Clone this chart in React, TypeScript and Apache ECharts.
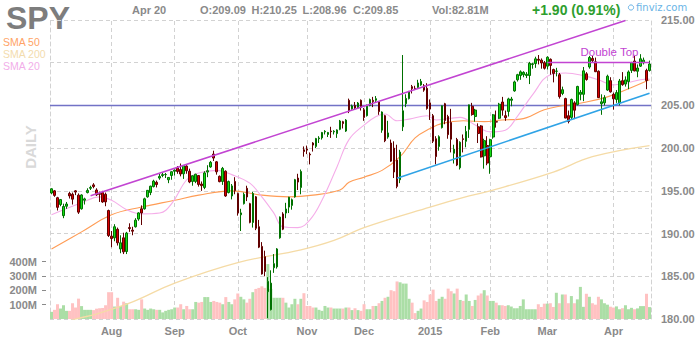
import React, { useEffect, useRef } from 'react';
import * as echarts from 'echarts';

// ---------- data ----------
const tradingDays: [string, number[]][] = [
  ['Jul', [3, 7, 8, 9, 10, 11, 14, 15, 16, 17, 18, 21, 22, 23, 24, 25, 28, 29, 30, 31]],
  ['Aug', [1, 4, 5, 6, 7, 8, 11, 12, 13, 14, 15, 18, 19, 20, 21, 22, 25, 26, 27, 28, 29]],
  ['Sep', [2, 3, 4, 5, 8, 9, 10, 11, 12, 15, 16, 17, 18, 19, 22, 23, 24, 25, 26, 29, 30]],
  ['Oct', [1, 2, 3, 6, 7, 8, 9, 10, 13, 14, 15, 16, 17, 20, 21, 22, 23, 24, 27, 28, 29, 30, 31]],
  ['Nov', [3, 4, 5, 6, 7, 10, 11, 12, 13, 14, 17, 18, 19, 20, 21, 24, 25, 26, 28]],
  ['Dec', [1, 2, 3, 4, 5, 8, 9, 10, 11, 12, 15, 16, 17, 18, 19, 22, 23, 24, 26, 29, 30, 31]],
  ['Jan', [2, 5, 6, 7, 8, 9, 12, 13, 14, 15, 16, 20, 21, 22, 23, 26, 27, 28, 29, 30]],
  ['Feb', [2, 3, 4, 5, 6, 9, 10, 11, 12, 13, 17, 18, 19, 20, 23, 24, 25, 26, 27]],
  ['Mar', [2, 3, 4, 5, 6, 9, 10, 11, 12, 13, 16, 17, 18, 19, 20, 23, 24, 25, 26, 27, 30, 31]],
  ['Apr', [1, 2, 6, 7, 8, 9, 10, 13, 14, 15, 16, 17, 20]],
];
const monthTickLabels: Record<string, string> = {
  Aug: 'Aug', Sep: 'Sep', Oct: 'Oct', Nov: 'Nov', Dec: 'Dec', Jan: '2015', Feb: 'Feb', Mar: 'Mar', Apr: 'Apr',
};

const opens = [
  194.75, 195.0, 194.2, 193.4, 192.1, 193.2, 194.7, 194.6, 195.0, 194.5, 192.9, 193.9, 194.8, 195.3, 195.7, 195.1, 194.7, 194.8, 194.6, 192.7,
  189.7, 189.5, 190.5, 188.2, 189.5, 187.9, 190.7, 190.4, 190.8, 191.7, 192.9, 192.9, 194.3, 194.8, 195.5, 196.0, 196.5, 196.8, 196.9, 196.3, 196.8,
  197.3, 197.7, 197.5, 197.0, 197.9, 197.3, 196.1, 196.1, 196.8, 195.8, 195.4, 197.2, 197.8, 199.3, 198.4, 196.7, 196.1, 197.3, 194.8, 194.4, 196.1,
  194.7, 192.2, 193.5, 195.3, 193.5, 191.3, 194.3, 190.8, 188.5, 187.3, 183.2, 181.1, 186.0, 186.1, 189.5, 192.3, 192.4, 193.1, 193.3, 194.3, 196.5, 195.4, 199.8,
  199.9, 199.3, 200.6, 200.2, 201.1, 201.2, 201.9, 201.6, 202.0, 201.9, 201.7, 202.2, 203.1, 202.0, 205.6, 204.6, 205.0, 204.7, 205.6,
  204.5, 203.8, 205.0, 205.6, 205.6, 205.4, 202.1, 203.8, 201.3, 200.6, 200.0, 198.6, 196.3, 202.5, 205.2, 205.8, 207.2, 207.0, 207.1, 207.4, 207.3, 207.0,
  205.3, 203.8, 201.1, 200.2, 202.4, 205.2, 203.7, 203.0, 199.4, 201.0, 197.7, 201.1, 200.8, 202.2, 204.9, 203.7, 202.5, 202.6, 199.1, 200.3,
  199.0, 201.3, 203.1, 203.5, 205.4, 203.8, 204.3, 205.6, 206.7, 208.0, 208.5, 208.6, 208.5, 208.5, 209.8, 209.9, 210.4, 210.3, 210.0,
  209.6, 210.4, 209.2, 209.0, 208.6, 206.4, 205.8, 203.8, 203.6, 205.3, 205.1, 206.3, 206.3, 208.7, 209.5, 210.5, 210.1, 209.0, 205.2, 205.3, 206.8, 207.9,
  206.3, 205.7, 205.3, 207.9, 207.5, 207.8, 209.1, 210.2, 209.0, 209.6, 210.0, 209.1, 209.09,
];
const closes = [
  195.24, 194.47, 193.07, 193.98, 193.17, 193.46, 194.41, 194.03, 194.86, 192.51, 194.52, 194.06, 195.05, 195.4, 195.5, 194.53, 194.59, 193.7, 193.71, 189.77,
  189.42, 190.8, 188.92, 188.92, 187.86, 190.06, 190.59, 190.28, 191.57, 192.42, 192.41, 194.07, 195.06, 195.55, 196.14, 195.74, 196.69, 196.9, 196.91, 196.57, 197.24,
  197.43, 197.27, 196.97, 197.97, 197.35, 196.04, 196.77, 196.95, 195.75, 195.61, 197.1, 197.36, 198.34, 198.84, 197.23, 196.08, 197.63, 194.4, 196.09, 195.58, 195.03,
  192.42, 192.42, 194.59, 194.28, 191.31, 194.69, 190.62, 188.41, 185.27, 185.57, 184.4, 184.2, 186.48, 188.2, 191.93, 190.51, 192.88, 194.26, 193.96, 196.31, 196.03, 197.27, 199.61,
  199.78, 199.21, 200.36, 201.12, 201.19, 201.83, 201.97, 201.83, 201.93, 201.98, 202.13, 203.18, 202.87, 203.28, 204.35, 204.94, 204.7, 205.28, 204.76,
  203.59, 204.91, 205.68, 205.44, 205.79, 204.28, 204.23, 200.86, 201.78, 198.48, 197.21, 195.52, 199.54, 204.37, 205.82, 206.6, 206.97, 206.94, 207.63, 207.81, 206.79, 204.64,
  204.57, 200.81, 199.01, 201.34, 204.96, 203.23, 201.58, 201.05, 199.88, 198.02, 200.69, 201.01, 201.96, 205.07, 203.93, 204.46, 201.71, 198.97, 200.88, 198.25,
  200.99, 203.9, 203.05, 205.15, 204.45, 203.57, 205.76, 205.75, 207.75, 208.6, 208.93, 208.87, 208.65, 209.93, 209.87, 210.45, 210.29, 209.97, 209.35,
  210.64, 209.68, 208.75, 209.02, 206.03, 206.84, 203.52, 203.12, 205.7, 204.44, 207.22, 206.53, 209.05, 208.03, 210.61, 210.24, 208.95, 205.91, 205.42, 205.9, 208.42, 206.59,
  205.77, 206.5, 207.86, 207.43, 207.99, 208.92, 210.01, 209.04, 209.38, 210.46, 210.3, 207.92, 209.85,
];
const lows = [
  194.6, 194.3, 192.7, 193.2, 191.8, 192.9, 194.1, 193.4, 194.5, 192.3, 192.8, 193.4, 194.7, 195.1, 195.3, 194.4, 193.7, 193.6, 193.2, 189.6,
  188.4, 189.1, 188.6, 187.7, 187.6, 187.6, 190.2, 189.8, 190.7, 191.5, 191.0, 192.8, 194.2, 194.5, 195.4, 195.4, 196.3, 196.6, 196.5, 195.9, 196.3,
  196.8, 197.0, 196.7, 196.4, 197.0, 195.9, 195.6, 195.9, 195.5, 195.0, 195.2, 196.6, 197.7, 198.5, 196.9, 196.0, 195.7, 194.3, 194.7, 194.0, 194.6,
  192.1, 190.3, 193.4, 193.8, 191.2, 190.7, 190.4, 188.3, 185.2, 185.0, 180.1, 181.0, 185.4, 185.9, 189.4, 190.4, 191.8, 192.4, 192.8, 194.2, 195.1, 194.6, 199.0,
  199.3, 198.1, 199.6, 200.0, 200.6, 201.0, 201.6, 201.3, 201.2, 201.6, 201.2, 202.1, 202.3, 201.9, 204.1, 204.5, 204.5, 204.6, 204.4,
  203.2, 203.7, 204.9, 204.8, 205.3, 203.9, 201.8, 200.7, 201.1, 198.4, 196.5, 195.3, 195.9, 202.0, 204.8, 205.7, 206.4, 206.8, 207.0, 207.3, 206.6, 204.5,
  203.3, 200.6, 198.1, 199.7, 202.3, 202.8, 201.1, 199.5, 198.2, 197.9, 197.5, 199.5, 200.1, 201.2, 203.8, 203.1, 200.6, 198.9, 197.6, 198.0,
  197.0, 201.1, 202.4, 203.4, 203.8, 203.2, 203.7, 204.9, 206.6, 207.8, 208.0, 208.3, 208.2, 207.5, 209.3, 209.4, 209.8, 209.3, 209.2,
  209.2, 208.6, 207.7, 208.4, 205.8, 206.2, 203.5, 202.9, 203.4, 203.4, 205.0, 205.6, 205.5, 207.9, 209.3, 210.0, 208.9, 205.9, 203.9, 205.0, 206.7, 206.5,
  204.5, 205.3, 205.0, 207.3, 207.2, 206.9, 208.8, 209.0, 208.3, 209.5, 209.8, 206.9, 208.96,
];
const highs = [
  195.3, 195.1, 194.3, 194.05, 193.5, 193.7, 194.9, 194.8, 195.1, 194.7, 194.6, 194.2, 195.3, 195.6, 195.9, 195.3, 194.9, 195.0, 194.8, 192.8,
  190.3, 191.1, 190.7, 189.8, 190.1, 190.2, 191.2, 190.8, 191.8, 192.5, 193.3, 194.2, 195.1, 195.6, 196.3, 196.2, 197.0, 197.2, 197.1, 196.6, 197.3,
  197.5, 197.9, 198.2, 198.0, 198.0, 197.6, 196.8, 197.0, 196.8, 196.1, 197.3, 198.0, 198.5, 199.7, 198.5, 196.8, 197.8, 197.4, 196.2, 195.8, 196.6,
  194.8, 192.9, 194.8, 195.6, 193.6, 194.9, 194.4, 191.6, 189.0, 188.0, 184.9, 185.7, 187.6, 188.3, 192.0, 192.5, 193.6, 194.3, 194.1, 196.4, 197.0, 197.5, 200.2,
  200.3, 199.5, 200.7, 201.2, 201.4, 201.9, 202.1, 201.9, 202.5, 202.1, 202.2, 203.3, 203.2, 203.4, 205.8, 205.1, 205.4, 205.4, 205.7,
  204.7, 205.1, 205.8, 206.0, 206.1, 205.5, 204.3, 203.9, 203.2, 201.0, 200.8, 200.4, 199.8, 210.9, 206.3, 206.7, 207.4, 207.3, 208.0, 208.1, 207.5, 207.6,
  205.7, 204.0, 201.4, 201.5, 205.0, 205.3, 203.9, 204.6, 200.4, 201.2, 200.8, 201.6, 202.6, 205.1, 205.3, 204.6, 202.9, 202.7, 201.1, 201.4,
  201.1, 204.0, 204.4, 205.3, 206.0, 204.4, 205.9, 206.0, 207.9, 208.7, 209.1, 209.0, 208.9, 210.1, 210.0, 210.7, 210.9, 210.5, 210.2,
  210.75, 210.5, 209.3, 209.4, 208.8, 207.2, 205.9, 204.4, 205.8, 205.5, 207.3, 206.8, 209.5, 208.9, 210.8, 210.8, 210.6, 209.1, 206.3, 206.2, 208.6, 208.3,
  206.5, 206.8, 208.1, 208.9, 208.4, 209.1, 210.1, 210.8, 209.8, 211.0, 210.6, 209.3, 210.25,
];
// volume, millions of shares
const volumes = [
  50, 64, 103, 73, 96, 57, 57, 110, 80, 142, 90, 64, 64, 64, 62, 72, 75, 77, 96, 187,
  187, 87, 148, 91, 121, 110, 68, 68, 68, 64, 137, 73, 64, 73, 68, 64, 64, 46, 57, 64, 68,
  80, 80, 103, 68, 91, 68, 68, 119, 114, 119, 153, 153, 119, 126, 119, 114, 103, 153, 119, 103,
  137, 178, 155, 137, 114, 141, 187, 210, 217, 228, 217, 383, 210, 148, 148, 148, 148, 114, 80, 103, 141, 103, 141,
  180, 91, 91, 80, 80, 64, 57, 91, 80, 80, 73, 73, 73, 73, 80, 80, 62, 75, 62, 57,
  103, 68, 68, 91, 91, 110, 126, 148, 155, 201, 194, 262, 256, 247, 247, 141, 114, 41, 57, 73, 130, 119,
  171, 205, 126, 141, 155, 141, 212, 194, 178, 212, 133, 126, 171, 126, 91, 133, 164, 178, 201, 164,
  126, 126, 114, 96, 96, 91, 96, 87, 75, 75, 91, 137, 68, 68, 68, 68, 103, 84, 107,
  107, 110, 84, 183, 110, 171, 171, 110, 160, 110, 137, 224, 85, 176, 155, 110, 100, 155, 137, 110, 100, 86,
  80, 88, 68, 75, 96, 68, 78, 68, 74, 90, 90, 176, 83,
];

// moving averages: [trading-day index, value]
const sma20Pts = [
  [0, 192.2], [10, 193.6], [16, 194.3], [20, 193.9], [25, 192.8], [30, 192.3], [36, 192.4], [40, 193.5], [45, 196.3],
  [49, 197.1], [55, 197.4], [60, 196.9], [66, 195.9], [70, 194.3], [74, 192.4], [77, 190.8], [82, 190.7], [86, 191.6],
  [90, 193.9], [95, 197.8], [99, 201.0], [104, 202.7], [108, 203.7], [111, 204.0], [115, 203.2], [119, 203.4],
  [125, 203.8], [128, 203.3], [133, 203.5], [136, 203.6], [141, 202.7], [146, 201.9], [151, 202.1], [155, 203.7],
  [160, 206.2], [166, 208.6], [171, 208.8], [178, 208.4], [182, 208.0], [187, 207.4], [191, 207.6], [196, 208.0], [199, 208.1],
];
const sma50Pts = [
  [0, 188.2], [10, 190.2], [20, 192.2], [30, 193.1], [41, 193.9], [49, 194.5], [60, 195.0], [70, 194.5], [79, 194.3],
  [87, 194.5], [96, 195.1], [99, 196.0], [104, 196.6], [110, 197.4], [116, 199.0], [121, 201.2], [126, 202.3],
  [130, 202.9], [137, 203.2], [144, 203.1], [150, 203.3], [156, 203.4], [164, 204.5], [169, 204.9], [178, 205.4],
  [185, 206.0], [191, 206.8], [199, 208.0],
];
const sma200Pts = [
  [0, 179.2], [7, 179.9], [16, 180.7], [27, 182.0], [41, 184.2], [62, 186.6], [83, 188.1], [94, 189.2], [104, 190.7],
  [126, 193.1], [139, 194.4], [146, 195.0], [167, 197.2], [180, 199.0], [199, 200.3],
];

// drawn annotations: [index, price]
const channelTop = [[13, 194.42], [191, 214.94]];
const supportLine = [[115, 196.47], [199, 206.42]];
const doubleTop = [[165, 210.05], [199, 210.05]];
const horizLevel = 205;
const lastPrice = 209.85;

const headerItems = [
  { text: 'Apr 20', x: 132 },
  { text: 'O:209.09', x: 200 },
  { text: 'H:210.25', x: 251.5 },
  { text: 'L:208.96', x: 302.5 },
  { text: 'C:209.85', x: 353 },
  { text: 'Vol:82.81M', x: 432 },
];
const changeText = '+1.90 (0.91%)';
const legendItems = [
  { text: 'SMA 50', color: '#ffa366', y: 42 },
  { text: 'SMA 200', color: '#f3dcae', y: 54 },
  { text: 'SMA 20', color: '#f2aee9', y: 66 },
];

// ---------- styles ----------
const FONT = '"Liberation Sans", Arial, sans-serif';
const GREY = '#8a8a8a';
const GRID_COLOR = '#d2d2d2';
const DASH = [4, 3];
const UP = '#14dc14';
const UP_B = '#007000';
const DOWN = '#d80000';
const DOWN_B = '#600000';
const VOL_UP = '#abdea6';
const VOL_DOWN = '#ffc2c2';
const C_SMA50 = '#ff9c55';
const C_SMA200 = '#f5dba6';
const C_SMA20 = '#f5ade9';
const C_CHANNEL = '#c244d2';
const C_BLUE = '#2fa3e6';
const C_LEVEL = '#7272c6';

export default function App() {
  const ref = useRef<HTMLDivElement>(null);

  useEffect(() => {
    if (!ref.current) return;
    const chart = echarts.init(ref.current, null, { renderer: 'svg' });

    const categories: string[] = [];
    const monthStart: Record<number, string> = {};
    tradingDays.forEach(([m, days]) => {
      days.forEach((d, k) => {
        if (k === 0 && monthTickLabels[m]) monthStart[categories.length] = monthTickLabels[m];
        categories.push(`${m} ${d}`);
      });
    });
    const monthIdx = Object.keys(monthStart).map(Number);

    const candleData = categories.map((_, i) => [opens[i], closes[i], lows[i], highs[i]]);
    const volData = volumes.map((v, i) => ({
      value: v,
      itemStyle: { color: closes[i] >= opens[i] ? VOL_UP : VOL_DOWN },
    }));

    const lineSeries = (name: string, pts: number[][], color: string, width: number) => ({
      name,
      type: 'line',
      xAxisIndex: 0,
      yAxisIndex: 0,
      data: pts,
      showSymbol: false,
      symbol: 'none',
      smooth: 0.4,
      silent: true,
      z: 3,
      lineStyle: { color, width },
    });

    const option: any = {
      animation: false,
      backgroundColor: '#ffffff',
      grid: { left: 50, right: 49, top: 20, bottom: 21, containLabel: false },
      xAxis: {
        type: 'category',
        data: categories,
        boundaryGap: true,
        axisLine: { show: false },
        axisTick: { show: false },
        splitLine: { show: false },
        axisLabel: {
          interval: (i: number) => monthStart[i] !== undefined,
          formatter: (_v: string, i: number) => monthStart[i] ?? '',
          color: GREY,
          fontWeight: 'bold',
          fontSize: 11,
          fontFamily: FONT,
          margin: 6,
        },
      },
      yAxis: [
        {
          type: 'value',
          position: 'right',
          min: 180,
          max: 215,
          interval: 5,
          axisLine: { show: true, lineStyle: { color: GRID_COLOR, type: DASH } },
          axisTick: { show: false },
          axisLabel: {
            color: GREY,
            fontWeight: 'bold',
            fontSize: 11,
            fontFamily: FONT,
            margin: 10,
            formatter: (v: number) => (v === 210 ? '' : v.toFixed(2)),
          },
          splitLine: { show: true, lineStyle: { color: GRID_COLOR, type: DASH } },
        },
        {
          type: 'value',
          position: 'left',
          offset: 4,
          min: 0,
          max: 2086,
          axisLine: { show: false },
          axisTick: { show: true, length: 4, customValues: [100, 200, 300, 400], lineStyle: { color: GREY } },
          axisLabel: {
            customValues: [100, 200, 300, 400],
            formatter: (v: number) => `${v}M`,
            color: GREY,
            fontWeight: 'bold',
            fontSize: 11,
            fontFamily: FONT,
            margin: 9,
          },
          splitLine: { show: false },
        },
        {
          type: 'value',
          position: 'left',
          offset: 0,
          min: 0,
          max: 1,
          axisLine: { show: true, lineStyle: { color: GRID_COLOR, type: DASH } },
          axisTick: { show: false },
          axisLabel: { show: false },
          splitLine: { show: false },
        },
      ],
      series: [
        {
          name: 'Volume',
          type: 'bar',
          xAxisIndex: 0,
          yAxisIndex: 1,
          data: volData,
          barCategoryGap: '0%',
          silent: true,
          z: 2,
          markLine: {
            silent: true,
            symbol: 'none',
            z: 1,
            label: { show: false },
            lineStyle: { color: GRID_COLOR, type: DASH, width: 1 },
            data: monthIdx.map((i) => ({ xAxis: i })),
          },
        },
        lineSeries('SMA 200', sma200Pts, C_SMA200, 1.3),
        lineSeries('SMA 50', sma50Pts, C_SMA50, 1.1),
        lineSeries('SMA 20', sma20Pts, C_SMA20, 1.1),
        {
          name: 'Level',
          type: 'line',
          xAxisIndex: 0,
          yAxisIndex: 0,
          data: [],
          silent: true,
          color: C_LEVEL,
          itemStyle: { color: C_LEVEL },
          lineStyle: { color: C_LEVEL },
          z: 3,
          markLine: {
            silent: true,
            symbol: 'none',
            z: 3,
            label: { show: false },
            itemStyle: { color: C_LEVEL },
            lineStyle: { color: C_LEVEL, width: 1.3, type: 'solid', opacity: 1 },
            data: [
              {
                yAxis: horizLevel,
                itemStyle: { color: C_LEVEL },
                lineStyle: { color: C_LEVEL, width: 1.3, type: 'solid' },
              },
            ],
          },
        },
        {
          name: 'SPY',
          type: 'candlestick',
          xAxisIndex: 0,
          yAxisIndex: 0,
          data: candleData,
          barWidth: 2.1,
          silent: true,
          z: 4,
          itemStyle: {
            color: UP,
            color0: DOWN,
            borderColor: UP_B,
            borderColor0: DOWN_B,
            borderWidth: 1,
          },
          markLine: {
            silent: true,
            symbol: 'none',
            z: 5,
            label: { show: false },
            data: [
              [
                { coord: channelTop[0], lineStyle: { color: C_CHANNEL, width: 1.6, type: 'solid' }, label: { show: false } },
                { coord: channelTop[1] },
              ],
              [
                { coord: supportLine[0], lineStyle: { color: C_BLUE, width: 1.6, type: 'solid' }, label: { show: false } },
                { coord: supportLine[1] },
              ],
              [
                {
                  coord: doubleTop[0],
                  lineStyle: { color: C_CHANNEL, width: 1.3, type: 'solid' },
                  label: {
                    show: true,
                    position: 'insideEndTop',
                    formatter: 'Double Top',
                    color: C_CHANNEL,
                    fontSize: 11.5,
                    fontFamily: FONT,
                    distance: [11, 4],
                  },
                },
                { coord: doubleTop[1] },
              ],
              {
                yAxis: lastPrice,
                lineStyle: { opacity: 0, width: 0 },
                label: {
                  show: true,
                  position: 'end',
                  distance: 6,
                  formatter: lastPrice.toFixed(2),
                  backgroundColor: '#ffff00',
                  color: '#000000',
                  fontWeight: 'bold',
                  fontSize: 11,
                  fontFamily: FONT,
                  padding: [1, 2, 1, 2],
                },
              },
            ],
          },
        },
      ],
      graphic: [
        {
          type: 'text',
          x: 6,
          y: 18,
          style: { text: 'SPY', fill: '#7d7d7d', font: `bold 32px ${FONT}`, align: 'left', verticalAlign: 'middle' },
        },
        ...headerItems.map((h) => ({
          type: 'text',
          x: h.x,
          y: 10,
          style: { text: h.text, fill: GREY, font: `bold 11px ${FONT}`, align: 'left', verticalAlign: 'middle' },
        })),
        {
          type: 'text',
          x: 532,
          y: 10,
          style: { text: changeText, fill: '#2e9e2e', font: `bold 14px ${FONT}`, align: 'left', verticalAlign: 'middle' },
        },
        {
          type: 'circle',
          shape: { cx: 631, cy: 7.5, r: 2.6 },
          style: { fill: 'none', stroke: '#6ab4e6', lineWidth: 1 },
        },
        {
          type: 'text',
          x: 636,
          y: 7.5,
          style: { text: 'finviz.com', fill: '#6ab4e6', font: `10px "DejaVu Sans", Verdana, sans-serif`, align: 'left', verticalAlign: 'middle' },
        },
        ...legendItems.map((l) => ({
          type: 'text',
          x: 3,
          y: l.y,
          style: { text: l.text, fill: l.color, font: `10.5px ${FONT}`, align: 'left', verticalAlign: 'middle' },
        })),
        {
          type: 'text',
          x: 30,
          y: 147,
          rotation: Math.PI / 2,
          style: { text: 'DAILY', fill: '#d9d9d9', font: `bold 15px ${FONT}`, align: 'center', verticalAlign: 'middle' },
        },
      ],
    };

    chart.setOption(option);
    return () => chart.dispose();
  }, []);

  return (
    <div
      ref={ref}
      style={{ position: 'fixed', left: 0, top: 0, width: 700, height: 340, background: '#ffffff' }}
    />
  );
}
